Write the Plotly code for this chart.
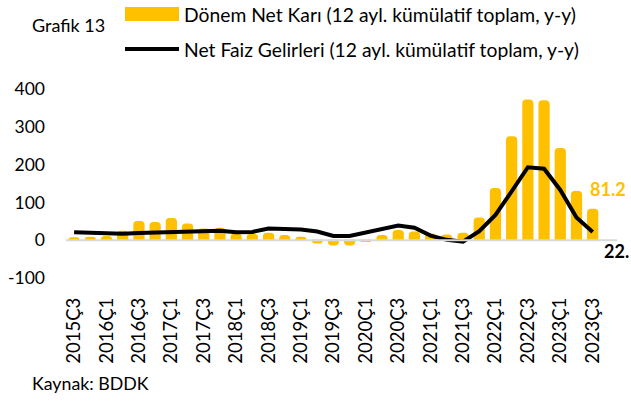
import plotly.graph_objects as go

quarters = [
    "2015Ç3", "2015Ç4", "2016Ç1", "2016Ç2", "2016Ç3", "2016Ç4",
    "2017Ç1", "2017Ç2", "2017Ç3", "2017Ç4", "2018Ç1", "2018Ç2",
    "2018Ç3", "2018Ç4", "2019Ç1", "2019Ç2", "2019Ç3", "2019Ç4",
    "2020Ç1", "2020Ç2", "2020Ç3", "2020Ç4", "2021Ç1", "2021Ç2",
    "2021Ç3", "2021Ç4", "2022Ç1", "2022Ç2", "2022Ç3", "2022Ç4",
    "2023Ç1", "2023Ç2", "2023Ç3",
]
net_kar = [6, 7, 9, 23, 49, 46, 57, 42, 29, 31, 16, 15,
           18, 12, 7, -7, -12, -12, -3, 12, 25, 21, 16, 13,
           18, 58, 136, 273, 370, 368, 242, 128, 81.2]
net_faiz = [21, 19, 19, 17, 19, 20, 22, 24, 23, 25, 21, 22,
            31, 30, 28, 23, 11, 11, 21, 29, 39, 33, 12, 1,
            -4, 24, 67, 129, 193, 189, 133, 60, 22]
tick_labels = quarters[::2]
yticks = [-100, 0, 100, 200, 300, 400]
ytick_text = ["-100", "0", "100", "200", "300", "400"]

name_bar = "Dönem Net Karı (12 ayl. kümülatif toplam, y-y)"
name_line = "Net Faiz Gelirleri (12 ayl. kümülatif toplam, y-y)"

ORANGE = "#FFC000"
FONT = "Lato"

fig = go.Figure()
fig.add_trace(go.Bar(
    x=quarters, y=net_kar, name=name_bar, width=0.6,
    marker=dict(color=ORANGE, line=dict(color=ORANGE, width=1.5), cornerradius=3),
    showlegend=False,
))
fig.add_trace(go.Scatter(
    x=quarters, y=net_faiz, name=name_line, mode="lines",
    line=dict(color="black", width=4),
    showlegend=False,
))

fig.update_layout(
    width=631, height=403,
    margin=dict(l=66, r=14, t=89, b=125, autoexpand=False),
    paper_bgcolor="white", plot_bgcolor="white",
    font=dict(family=FONT, color="black"),
    bargap=0.4,
)
fig.update_xaxes(
    type="category", categoryorder="array", categoryarray=quarters,
    range=[-0.5, 33.5], tickmode="array", tickvals=tick_labels, ticktext=tick_labels,
    tickangle=-90, tickfont=dict(size=18.5, family=FONT), showgrid=False,
    showline=False, ticks="", ticklabelstandoff=15,
    automargin=False,
)
fig.update_yaxes(
    range=[-100, 400], tickmode="array", tickvals=yticks, ticktext=ytick_text,
    showgrid=False, zeroline=False,
    tickfont=dict(size=17.5, family=FONT), showline=False,
    ticks="", ticklabelstandoff=20, automargin=False,
)

# zero line drawn above bars
fig.add_shape(type="line", xref="paper", yref="y", x0=0, x1=1, y0=0, y1=0,
              line=dict(color="#D9D9D9", width=2), layer="above")

# custom legend
fig.add_shape(type="rect", xref="paper", yref="paper",
              x0=(125 - 66) / 551, x1=(179 - 66) / 551,
              y0=(278 - 21) / 189, y1=(278 - 7) / 189,
              fillcolor=ORANGE, line=dict(width=0), layer="above")
fig.add_shape(type="line", xref="paper", yref="paper",
              x0=(125 - 66) / 551, x1=(179 - 66) / 551,
              y0=(278 - 49) / 189, y1=(278 - 49) / 189,
              line=dict(color="black", width=4), layer="above")

ann = [
    dict(text="Grafik 13", x=30, y=25, size=18),
    dict(text=name_bar, x=182, y=15, size=19.3),
    dict(text=name_line, x=182, y=49, size=19.3),
    dict(text="Kaynak: BDDK", x=30, y=383, size=17.8),
]
for a in ann:
    fig.add_annotation(text=a["text"], xref="paper", yref="paper",
                       x=(a["x"] - 66) / 551, y=(278 - a["y"]) / 189,
                       xanchor="left", yanchor="middle", showarrow=False,
                       font=dict(size=a["size"], family=FONT, color="black"))

fig.add_annotation(text="<b>81.2</b>", x=quarters[-1], y=net_kar[-1],
                   xanchor="left", yanchor="middle", xshift=-5, yshift=21,
                   showarrow=False, font=dict(size=18, family=FONT, color=ORANGE))
fig.add_annotation(text="<b>22.</b>", x=quarters[-1], y=net_faiz[-1],
                   xanchor="left", yanchor="middle", xshift=9, yshift=-19,
                   showarrow=False, font=dict(size=18, family=FONT, color="black"))

fig.write_html("out.html", config={"displayModeBar": False},
               post_script="document.body.style.margin='0';document.body.style.overflow='hidden';")
